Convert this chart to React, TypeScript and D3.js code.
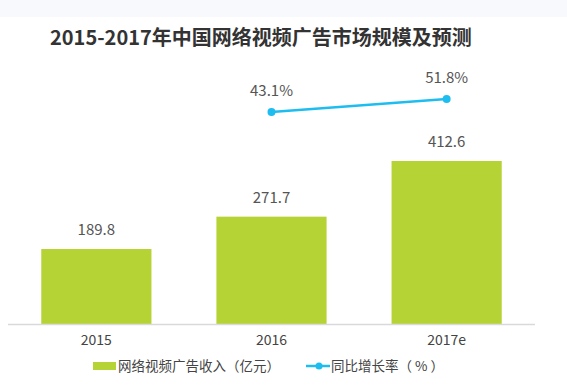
import React from "react";
import * as d3 from "d3";

const categories = ["2015", "2016", "2017e"];
const revenue = [189.8, 271.7, 412.6];
const growthCats = ["2016", "2017e"];
const growth = [43.1, 51.8];
const title = "2015-2017年中国网络视频广告市场规模及预测";
const legendBar = "网络视频广告收入（亿元）";
const legendLine = "同比增长率（ % ）";

const W = 567, H = 385;
const FONT = "'Noto Sans CJK SC', 'Noto Sans', sans-serif";
const BAR = "#b5d334";
const LINE = "#1ebdf0";

export default function App() {
  const x = d3.scaleBand().domain(categories).range([8, 535]).paddingInner(0.371).paddingOuter(0.19);
  const y = d3.scaleLinear().domain([0, 412.6]).range([324, 161]);
  const y2 = d3.scaleLinear().domain([43.1, 51.8]).range([112, 99]);
  const cx = (c: string) => (x(c) as number) + x.bandwidth() / 2;
  const line = d3.line<number>().x((_, i) => cx(growthCats[i])).y((d) => y2(d));
  return (
    <svg width={W} height={H} style={{ position: "absolute", left: 0, top: 0, background: "#fff" }} fontFamily={FONT}>
      <rect x={0} y={0} width={W} height={17} fill="#f8f9fc" />
      <text x={50} y={45} fontSize={20} fontWeight="bold" fill="#333">{title}</text>
      {categories.map((c, i) => (
        <g key={c}>
          <rect x={x(c)} y={y(revenue[i])} width={x.bandwidth()} height={y(0) - y(revenue[i])} fill={BAR} />
          <text x={cx(c)} y={y(revenue[i]) - 14} textAnchor="middle" fontSize={15} fill="#555">{revenue[i].toFixed(1)}</text>
          <text x={cx(c)} y={345} textAnchor="middle" fontSize={14} fill="#444">{c}</text>
        </g>
      ))}
      <line x1={8} x2={535} y1={324.5} y2={324.5} stroke="#d9d9d9" strokeWidth={1.5} />
      <path d={line(growth) || ""} fill="none" stroke={LINE} strokeWidth={2.5} />
      {growth.map((g, i) => (
        <g key={i}>
          <circle cx={cx(growthCats[i])} cy={y2(g)} r={4} fill={LINE} />
          <text x={cx(growthCats[i])} y={y2(g) - 16} textAnchor="middle" fontSize={15} fill="#555">{g.toFixed(1)}%</text>
        </g>
      ))}
      <rect x={93} y={362} width={23} height={8} fill={BAR} />
      <text x={118} y={371} fontSize={13.5} fill="#444">{legendBar}</text>
      <line x1={306} x2={330} y1={366} y2={366} stroke={LINE} strokeWidth={2.5} />
      <circle cx={319} cy={366} r={3.5} fill={LINE} />
      <text x={331} y={371} fontSize={13.5} fill="#444">{legendLine}</text>
    </svg>
  );
}
